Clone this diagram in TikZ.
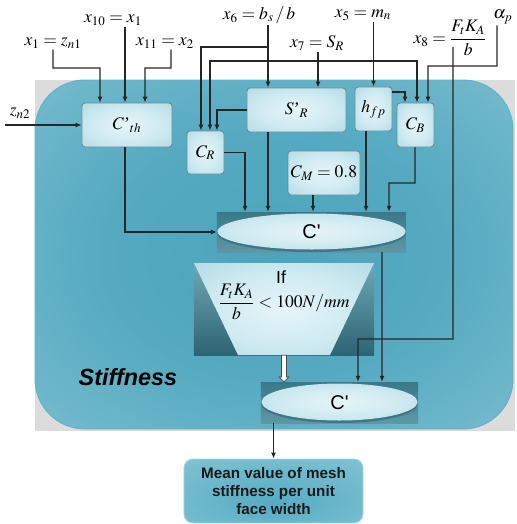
\documentclass[tikz,border=0pt]{standalone}
\usepackage{mathptmx}
\usepackage[no-math]{fontspec}
\setmainfont{Liberation Serif}
\newfontfamily\arialf{Liberation Sans}
\usetikzlibrary{arrows.meta,calc}
\newdimen\pxu \pxu=0.03cm
\definecolor{bgray}{HTML}{DCDCDC}
\definecolor{bedge}{HTML}{5DB4CC}
\definecolor{bA}{HTML}{4CA4BB}
\definecolor{bB}{HTML}{55AAC1}
\definecolor{bC}{HTML}{88C4D3}
\definecolor{bD}{HTML}{B6DDE7}
\definecolor{kA}{HTML}{E6F5F8}
\definecolor{kB}{HTML}{CFEAF1}
\definecolor{kC}{HTML}{A4D3DF}
\definecolor{kD}{HTML}{8CC4D2}
\definecolor{boxedge}{HTML}{5F8E9B}
\definecolor{oA}{HTML}{55ABC2}
\definecolor{oB}{HTML}{76BDCF}
\definecolor{oC}{HTML}{A8D6E2}
\definecolor{dtop}{HTML}{3A7888}
\definecolor{dbot}{HTML}{5F97A4}
\definecolor{ttop}{HTML}{6FA8B6}
\definecolor{tbot}{HTML}{2C6474}
\pgfdeclareradialshading{bgshade}{\pgfpoint{0bp}{0bp}}{color(0bp)=(bA); color(18bp)=(bB); color(45bp)=(bC); color(72bp)=(bD)}
\pgfdeclareradialshading{boxshade}{\pgfpoint{0bp}{0bp}}{color(0bp)=(kA); color(20bp)=(kB); color(45bp)=(kC); color(72bp)=(kD)}
\pgfdeclareradialshading{outshade}{\pgfpoint{0bp}{-10bp}}{color(0bp)=(oA); color(30bp)=(oB); color(72bp)=(oC)}
\tikzset{
  arr/.style={draw=black!85, line width=0.9pt, -{Latex[length=0.18cm,width=0.15cm]}},
  darr/.style={draw=black!85, line width=0.9pt, {Latex[length=0.18cm,width=0.15cm]}-{Latex[length=0.18cm,width=0.15cm]}},
  lab/.style={inner sep=1pt, font=\fontsize{15}{17}\selectfont},
  box/.style={draw=boxedge, line width=0.8pt, rounded corners=0.09cm, shading=boxshade, inner sep=0pt, font=\fontsize{15}{18}\selectfont},
  ellbox/.style={draw=none, top color=dtop, bottom color=dbot, inner sep=0pt,
    font=\arialf\fontsize{17}{20}\selectfont,
    path picture={
      \fill[tbot, opacity=0.6] ([yshift=-0.045cm]path picture bounding box.center) ellipse [x radius=2.82cm, y radius=0.555cm];
      \shade[shading=boxshade] ([yshift=0.015cm]path picture bounding box.center) ellipse [x radius=2.82cm, y radius=0.54cm];
    }},
}
\begin{document}
\begin{tikzpicture}[x=\pxu, y=-\pxu]
\useasboundingbox (0,0) rectangle (517,524);
% background region
\fill[bgray] (35,80) rectangle (515,431);
\shadedraw[shading=bgshade, draw=bedge, line width=0.8pt, rounded corners=1.5cm] (35,80) rectangle (513,429);

% top labels
\node[lab] (x1) at (53,43) {$x_1 = z_{n1}$};
\node[lab] (x10) at (113,20) {$x_{10} = x_1$};
\node[lab] (x11) at (165,43) {$x_{11} = x_2$};
\node[lab] (zn2) at (20,113) {$z_{n2}$};
\node[lab] (x6) at (259,15) {$x_6 = b_s\,/\,b$};
\node[lab] (x7) at (317,43) {$x_7 = S_R$};
\node[lab] (x5) at (363,15) {$x_5 = m_n$};
\node[lab] (x8) at (450,38) {$x_8 = \displaystyle\frac{F_t K_A}{b}$};
\node[lab] (alpha) at (503,17) {$\alpha_p$};
\coordinate (zin) at (5,125);
\coordinate (x8line) at (453,47);

% boxes
\node[box, minimum width=2.7cm, minimum height=1.32cm] (Cth) at (127,125) {$C\mbox{'}_{th}$};
\node[box, minimum width=1.11cm, minimum height=1.29cm] (CR) at (205.5,152.5) {$C_R$};
\node[box, minimum width=2.97cm, minimum height=1.32cm] (SR) at (296.5,110) {$S\mbox{'}_R$};
\node[box, minimum width=1.11cm, minimum height=1.32cm] (hfp) at (373.5,109) {$h_{fp}$};
\node[box, minimum width=1.11cm, minimum height=1.32cm] (CB) at (415.5,125) {$C_B$};
\node[box, minimum width=2.16cm, minimum height=1.32cm] (CM) at (324,173) {$C_M = 0.8$};

% ellipse nodes
\node[ellbox, minimum width=5.67cm, minimum height=1.2cm] (E1) at (311.5,232) {C'};
\node[ellbox, minimum width=4.71cm, minimum height=1.23cm,
  path picture={
      \fill[tbot, opacity=0.6] ([yshift=-0.045cm]path picture bounding box.center) ellipse [x radius=2.34cm, y radius=0.57cm];
      \shade[shading=boxshade] ([yshift=0.015cm]path picture bounding box.center) ellipse [x radius=2.34cm, y radius=0.555cm];
  }] (E2) at (339.5,402.5) {C'};

% trapezoid condition
\node[draw=none, top color=ttop, bottom color=tbot, minimum width=5.4cm, minimum height=2.76cm, inner sep=0pt,
  path picture={
    \shade[shading=boxshade] (path picture bounding box.north west) -- (path picture bounding box.north east)
      -- ([xshift=-1.32cm]path picture bounding box.south east) -- ([xshift=1.32cm]path picture bounding box.south west) -- cycle;
  }] (Trap) at (284,309) {};
\node[font=\arialf\fontsize{15}{17}\selectfont, inner sep=0pt] (TIf) at (281,277) {If};
\node[font=\fontsize{15}{17}\selectfont, inner sep=0pt] (TCond) at (284,302) {$\displaystyle\frac{F_tK_A}{b}<100N/mm$};

% Stiffness
\node[font=\arialf\bfseries\itshape\fontsize{20}{22}\selectfont, inner sep=0pt] (Stf) at (128,377) {Stiffness};

% output
\node[shading=outshade, draw=oC, line width=0.8pt, rounded corners=0.27cm, minimum width=5.37cm, minimum height=1.92cm,
  align=center, inner sep=0pt, text=black!90, font=\arialf\bfseries\fontsize{13}{15.7}\selectfont] (Out) at (273.5,491)
  {Mean value of mesh\\stiffness per unit\\face width};

% connectors
\draw[arr] (x1.south) |- (100,68) -- ([xshift=-0.81cm]Cth.north);
\draw[arr] ([xshift=-0.06cm]Cth.north |- x10.south) -- ([xshift=-0.06cm]Cth.north);
\draw[arr] ([xshift=0.18cm]x11.south) |- (145,68) -- ([xshift=0.54cm]Cth.north);
\draw[arr] (zin) -- (Cth.west);
\draw[arr] ([xshift=-0.855cm]SR.north |- x6.south) -- ([xshift=-0.855cm]SR.north);
\draw[arr] (268,47) -| ([xshift=-0.135cm]CR.north);
\draw[darr] ([xshift=0.135cm]CR.north) |- (417,61) -- ([xshift=0.045cm]CB.north);
\draw[arr] (SR.west) -| ([xshift=0.345cm]CR.north);
\draw[arr] ([xshift=0.645cm]SR.north |- x7.south) -- ([xshift=0.645cm]SR.north);
\draw[arr] (hfp.north |- x5.south) -- (hfp.north);
\draw[arr] ([yshift=0.51cm]hfp.east) -| ([xshift=-0.315cm]CB.north);
\draw[arr] ([xshift=-0.18cm]alpha.south) |- (428,66) -- ([xshift=0.375cm]CB.north);
\draw[arr] (x8line) |- (358,339) -- ([xshift=0.555cm]E2.north);

\draw[arr] ([xshift=-0.06cm]Cth.south) |- (E1.west);
\draw[arr] (CR.east) -| ([xshift=-1.995cm]E1.north);
\draw[arr] ([xshift=-0.855cm]SR.south) -- ([xshift=-0.855cm]SR.south |- E1.north);
\draw[arr] ([xshift=-0.33cm]CM.south) -- ([xshift=-0.33cm]CM.south |- E1.north);
\draw[arr] ([xshift=-0.225cm]hfp.south) -- ([xshift=-0.225cm]hfp.south |- E1.north);
\draw[arr] ([xshift=-0.015cm]CB.south) |- (389,183) -- ([xshift=2.325cm]E1.north);
\draw[arr] ([xshift=2.115cm]E1.south) -- ([xshift=1.275cm]E2.north);
\draw[arr] (E2.south -| Out.north) -- (Out.north);

% hollow arrow from condition to final C'
\draw[draw=gray!60!black, fill=white, line width=0.6pt]
  ([xshift=-0.075cm]Trap.south) -- ([xshift=0.075cm]Trap.south) -- (286.5,377) -- (289,377)
  -- ([xshift=-1.665cm]E2.north) -- (279,377) -- (281.5,377) -- cycle;
\end{tikzpicture}
\end{document}
